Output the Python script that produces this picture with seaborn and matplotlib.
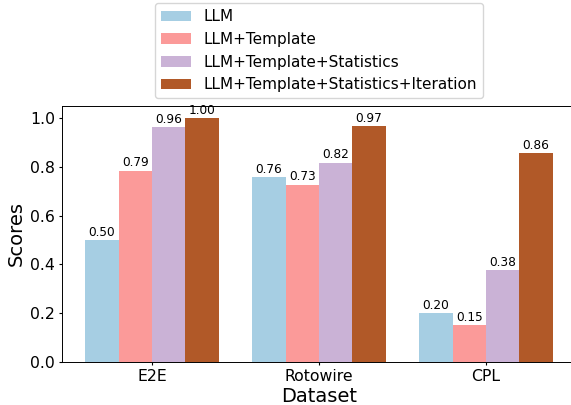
import matplotlib
matplotlib.use("Agg")
import matplotlib.pyplot as plt
import seaborn as sns
import pandas as pd

datasets = ["E2E", "Rotowire", "CPL"]
methods = ["LLM", "LLM+Template", "LLM+Template+Statistics",
           "LLM+Template+Statistics+Iteration"]
llm = [0.50, 0.759, 0.20]
llm_template = [0.785, 0.727, 0.152]
llm_template_stats = [0.964, 0.817, 0.377]
llm_template_stats_iter = [1.00, 0.968, 0.856]
colors = ["#a6cee3", "#fb9a99", "#cab2d6", "#b15928"]

series = [llm, llm_template, llm_template_stats, llm_template_stats_iter]
rows = []
for m, vals in zip(methods, series):
    for d, v in zip(datasets, vals):
        rows.append({"Dataset": d, "Method": m, "Scores": v})
df = pd.DataFrame(rows)

fig = plt.figure(figsize=(5.71, 4.05), dpi=100)
ax = fig.add_axes([62/571, 1-362/405, (576-62)/571, (362-106)/405])
sns.barplot(data=df, x="Dataset", y="Scores", hue="Method", order=datasets,
            hue_order=methods, palette=colors, saturation=1, linewidth=0,
            width=0.8, ax=ax, errorbar=None)
for c in ax.containers:
    ax.bar_label(c, fmt="%.2f", fontsize=8.7, padding=1)
ax.set_ylim(0, 1.05)
ax.set_xlim(-0.54, 2.54)
ax.set_xlabel("Dataset", fontsize=14, labelpad=2.5)
ax.set_ylabel("Scores", fontsize=14, labelpad=3)
ax.tick_params(labelsize=11.3, length=2.5, pad=2.5)
for s in ax.spines.values():
    s.set_linewidth(0.7)
ax.spines["right"].set_visible(False)
ax.legend(loc="lower center", bbox_to_anchor=(0.5, 1.0), fontsize=11,
          frameon=True)
fig.savefig("out.png", dpi=100)
